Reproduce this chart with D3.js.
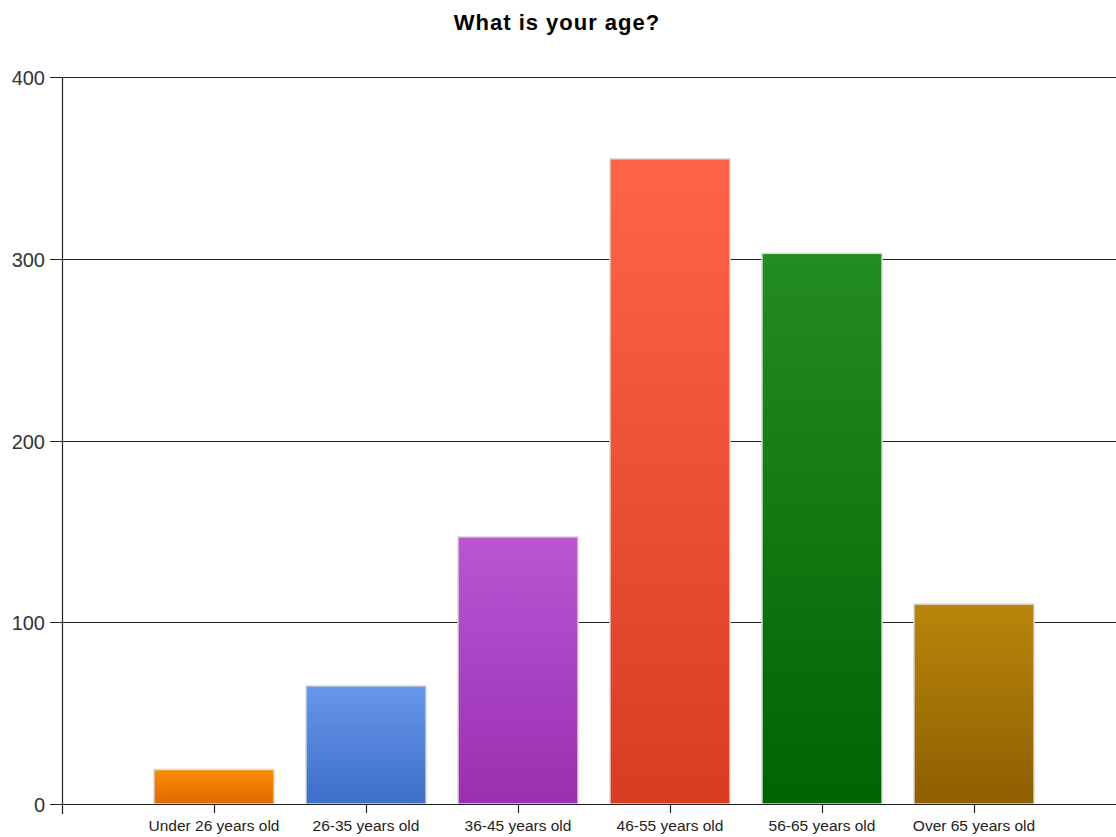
<!DOCTYPE html>
<html><head><meta charset="utf-8">
<script src="https://cdn.jsdelivr.net/npm/d3@7"></script>
<style>body{margin:0;background:#fff}svg{display:block}</style>
</head><body>
<svg id="c" width="1116" height="837"></svg>
<script>
const categories = ["Under 26 years old","26-35 years old","36-45 years old","46-55 years old","56-65 years old","Over 65 years old"];
const values = [19, 65, 147, 355, 303, 110];
const colorsTop = ["#fa8c00","#6797ea","#bb55d4","#ff6448","#248c24","#b8860b"];
const colorsBottom = ["#e06a00","#3d6ec8","#9830b0","#d83c22","#006400","#8e5e00"];
const yTicks = [0,100,200,300,400];
const title = "What is your age?";

const svg = d3.select("#c");
const x0 = 62, yTop = 77, yBot = 804;
const y = d3.scaleLinear().domain([0,400]).range([yBot,yTop]);
const x = d3.scaleBand().domain(categories).range([138, 138+6*152]).paddingInner(0.21).paddingOuter(0.105);

const defs = svg.append("defs");
categories.forEach((c,i)=>{
  const g = defs.append("linearGradient").attr("id","g"+i).attr("x1",0).attr("y1",0).attr("x2",0).attr("y2",1);
  g.append("stop").attr("offset","0%").attr("stop-color",colorsTop[i]);
  g.append("stop").attr("offset","100%").attr("stop-color",colorsBottom[i]);
});

svg.append("text").attr("x",557).attr("y",30).attr("text-anchor","middle")
  .attr("font-family","Liberation Sans, Arial, sans-serif").attr("font-weight","bold").attr("font-size",22)
  .attr("letter-spacing",1).attr("fill","#000").text(title);

// gridlines + y ticks
svg.append("g").selectAll("line").data(yTicks).join("line")
  .attr("x1",50).attr("x2",1116).attr("y1",d=>Math.round(y(d))+0.5).attr("y2",d=>Math.round(y(d))+0.5)
  .attr("stroke","#222").attr("stroke-width",1.2);
svg.append("g").selectAll("text").data(yTicks).join("text")
  .attr("x",45).attr("y",d=>y(d)+8).attr("text-anchor","end")
  .attr("font-family","Liberation Sans, Arial, sans-serif").attr("font-size",20).attr("fill","#333")
  .text(d=>d);

// bars
svg.append("g").selectAll("rect").data(values).join("rect")
  .attr("x",(d,i)=>x(categories[i])).attr("width",x.bandwidth())
  .attr("y",d=>y(d)).attr("height",d=>yBot-y(d))
  .attr("fill",(d,i)=>`url(#g${i})`).attr("stroke","#dcdcdc").attr("stroke-width",1.5);

// axes lines
svg.append("line").attr("x1",x0+0.5).attr("x2",x0+0.5).attr("y1",yTop).attr("y2",yBot+10).attr("stroke","#222").attr("stroke-width",1.2);
svg.append("line").attr("x1",50).attr("x2",1116).attr("y1",yBot+0.5).attr("y2",yBot+0.5).attr("stroke","#222").attr("stroke-width",1.2);
// x ticks
svg.append("g").selectAll("line").data(categories).join("line")
  .attr("x1",d=>Math.round(x(d)+x.bandwidth()/2)+0.5).attr("x2",d=>Math.round(x(d)+x.bandwidth()/2)+0.5)
  .attr("y1",yBot).attr("y2",yBot+9).attr("stroke","#222").attr("stroke-width",1.2);
svg.append("g").selectAll("text").data(categories).join("text")
  .attr("x",d=>x(d)+x.bandwidth()/2).attr("y",831).attr("text-anchor","middle")
  .attr("font-family","Liberation Sans, Arial, sans-serif").attr("font-size",15.5).attr("fill","#222")
  .text(d=>d);
</script>
</body></html>
